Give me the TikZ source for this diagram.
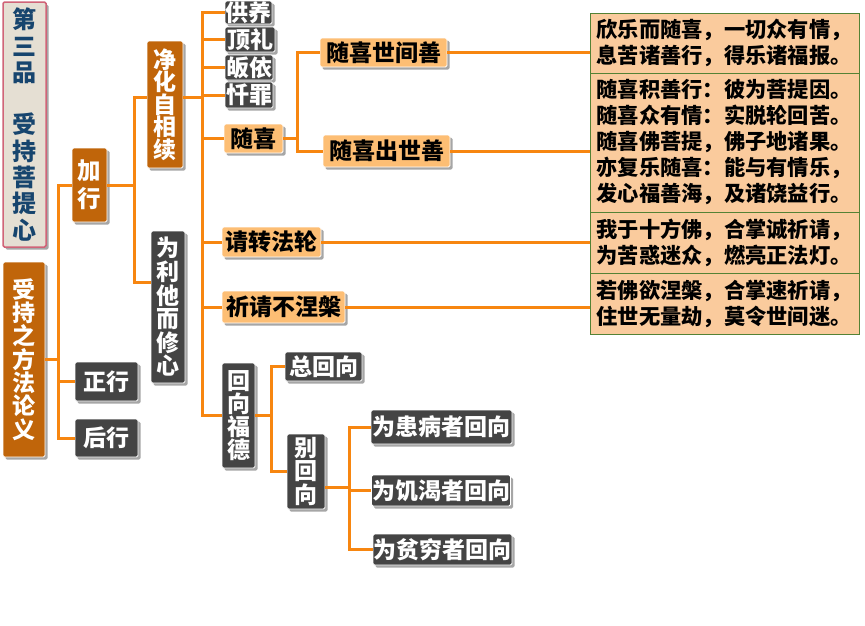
\documentclass[tikz,border=0pt]{standalone}
\usepackage{fontspec}
\setmainfont{Noto Sans CJK SC}
\usetikzlibrary{shadows}
\definecolor{linkorange}{RGB}{247,134,16}
\definecolor{nodebrown}{RGB}{192,101,10}
\definecolor{nodegray}{RGB}{68,68,68}
\definecolor{nodetan}{RGB}{253,190,116}
\definecolor{versepeach}{RGB}{250,203,157}
\definecolor{versegreen}{RGB}{84,130,53}
\definecolor{titlebeige}{RGB}{229,223,211}
\definecolor{titlepink}{RGB}{208,100,120}
\definecolor{titleblue}{RGB}{23,69,110}
\def\Fork#1#2#3{%
 \foreach \c in {#3}
   \draw[link] (#1) -- ++(#2,0) |- (\c.west);
}
\def\Verse#1#2{%
 \draw[link] (#1.east) -- (#1.east -| #2.west);
}

\begin{document}
\begin{tikzpicture}[x=1pt, y=-1pt,
  box/.style={rounded corners=1.5pt, inner sep=0pt, align=center,
      font=\bfseries\fontsize{23}{23.3}\selectfont,
      draw=white, line width=0.8pt,
      drop shadow={shadow xshift=2.5pt, shadow yshift=-2.5pt, opacity=0.35, fill=black}},
  brownbox/.style={box, fill=nodebrown, text=white},
  graybox/.style={box, fill=nodegray, text=white},
  tanbox/.style={box, fill=nodetan, text=black},
  verse/.style={draw=versegreen, line width=0.8pt, fill=versepeach,
      inner xsep=6.5pt, inner ysep=0pt, text width=256pt, align=left,
      font=\bfseries\fontsize{21.25}{26}\selectfont},
  link/.style={draw=linkorange, line width=3pt}]
\useasboundingbox (0,0) rectangle (865,625);

% left column
\node[box, fill=titlebeige, draw=titlepink, line width=1.5pt, text=titleblue,
  minimum width=43pt, minimum height=245pt,
  font=\bfseries\fontsize{24}{26.3}\selectfont] (title) at (24.5,124.5)
  {第\\三\\品\\[26.3pt]受\\持\\菩\\提\\心};
\node[brownbox, minimum width=42pt, minimum height=195pt] (method) at (24,359.5)
  {受\\持\\之\\方\\法\\论\\义};

% second and third columns
\node[brownbox, minimum width=35pt, minimum height=74pt,
  font=\bfseries\fontsize{23.5}{28}\selectfont] (prep) at (89.5,185) {加\\行};
\node[graybox, minimum width=63pt, minimum height=39pt] (main) at (106.5,381.5) {正行};
\node[graybox, minimum width=63pt, minimum height=38pt] (post) at (106.5,438) {后行};
\node[brownbox, minimum width=36pt, minimum height=127pt,
  font=\bfseries\fontsize{23}{22.5}\selectfont] (purify) at (165,104.5)
  {净\\化\\自\\相\\续};
\node[graybox, minimum width=34pt, minimum height=152pt,
  font=\bfseries\fontsize{23}{23.6}\selectfont] (others) at (168,307)
  {为\\利\\他\\而\\修\\心};

% branches
\node[graybox, minimum width=47pt, minimum height=23pt] (offer) at (248.5,12.5) {供养};
\node[graybox, minimum width=50pt, minimum height=25pt] (bow) at (250,39.5) {顶礼};
\node[graybox, minimum width=48pt, minimum height=25pt] (refuge) at (249,67.5) {皈依};
\node[graybox, minimum width=48pt, minimum height=26pt] (confess) at (249,95) {忏罪};
\node[tanbox, minimum width=59pt, minimum height=29pt] (rejoice) at (253.5,138.5) {随喜};
\node[tanbox, minimum width=99pt, minimum height=30pt] (turn) at (271.5,242) {请转法轮};
\node[tanbox, minimum width=123pt, minimum height=32pt] (stay) at (283.5,307) {祈请不涅槃};
\node[graybox, minimum width=33pt, minimum height=105pt,
  font=\bfseries\fontsize{23}{23}\selectfont] (dedicate) at (238.5,415.5)
  {回\\向\\福\\德};

\node[tanbox, minimum width=127pt, minimum height=29pt] (worldly) at (383.5,52.5) {随喜世间善};
\node[tanbox, minimum width=127pt, minimum height=32pt] (beyond) at (386.5,151) {随喜出世善};
\node[graybox, minimum width=77pt, minimum height=29pt] (general) at (323.5,366.5) {总回向};
\node[graybox, minimum width=38pt, minimum height=75pt] (specific) at (306,471.5)
  {别\\回\\向};
\node[graybox, minimum width=141pt, minimum height=34pt] (sick) at (441.5,427) {为患病者回向};
\node[graybox, minimum width=139pt, minimum height=31pt] (thirst) at (441,490.5) {为饥渴者回向};
\node[graybox, minimum width=139pt, minimum height=31pt] (poor) at (442.5,549.5) {为贫穷者回向};

% verses
\node[verse, minimum height=60pt] (va) at (724.5,43)
  {欣乐而随喜，一切众有情，\\息苦诸善行，得乐诸福报。};
\node[verse, minimum height=139pt] (vb) at (724.5,142.5)
  {随喜积善行：彼为菩提因。\\随喜众有情：实脱轮回苦。\\随喜佛菩提，佛子地诸果。\\亦复乐随喜：能与有情乐，\\发心福善海，及诸饶益行。};
\node[verse, minimum height=61pt] (vc) at (724.5,242.5)
  {我于十方佛，合掌诚祈请，\\为苦惑迷众，燃亮正法灯。};
\node[verse, minimum height=61pt] (vd) at (724.5,303.5)
  {若佛欲涅槃，合掌速祈请，\\住世无量劫，莫令世间迷。};

% connectors
\Fork{method.east}{13}{prep,main,post}
\draw[link] (prep.east) -- ++(27,0) |- ([yshift=7pt]purify.west);
\draw[link] (prep.east) -- ++(27,0) |- ([yshift=25pt]others.west);
\Fork{[yshift=7pt]purify.east}{19}{offer,bow,refuge,confess,rejoice,turn,stay,dedicate}
\Fork{rejoice.east}{14}{worldly,beyond}
\Fork{dedicate.east}{16}{general,specific}
\Fork{[yshift=-16pt]specific.east}{24}{sick,thirst,poor}
\Verse{worldly}{va}
\Verse{beyond}{vb}
\Verse{turn}{vc}
\Verse{stay}{vd}
\end{tikzpicture}
\end{document}
